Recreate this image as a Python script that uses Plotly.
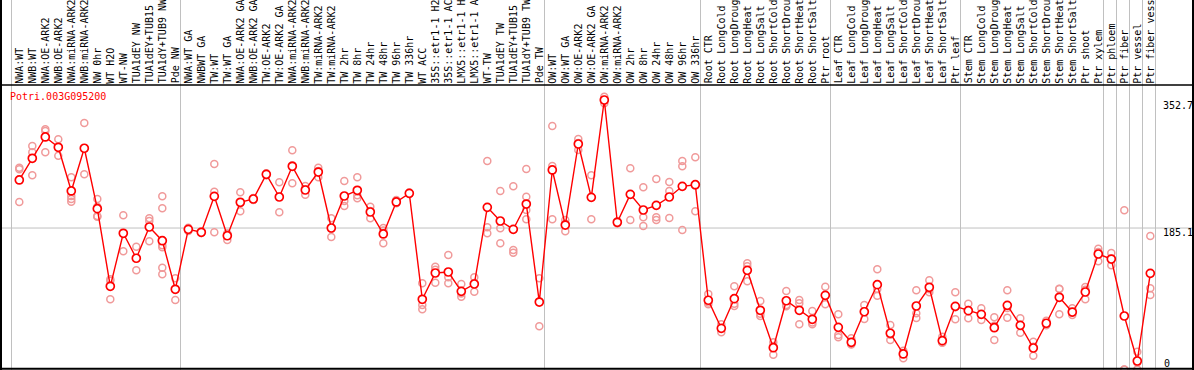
import plotly.graph_objects as go

gene_id = "Potri.003G095200"

categories = [
    "NWA:WT", "NWB:WT", "NWA:OE-ARK2", "NWB:OE-ARK2", "NWA:miRNA-ARK2", "NWB:miRNA-ARK2",
    "NW 0hr", "WT H2O", "WT-NW", "TUA1dEY NW", "TUA1dEY+TUB15 NW", "TUA1dY+TUB9 NW", "Pde NW",
    "NWA:WT GA", "NWBWT GA", "TW:WT", "TW:WT GA", "NWA:OE-ARK2 GA", "NWB:OE-ARK2 GA",
    "TW:OE-ARK2", "TW:OE-ARK2 GA", "NWA:miRNA-ARK2 GA", "NWB:miRNA-ARK2 GA", "TW:miRNA-ARK2",
    "TW:miRNA-ARK2 GA", "TW 2hr", "TW 8hr", "TW 24hr", "TW 48hr", "TW 96hr", "TW 336hr",
    "WT ACC", "35S::etr1-1 H2O", "35S::etr1-1 ACC", "LMX5::etr1-1 H2O", "LMX5::etr1-1 ACC",
    "WT-TW", "TUA1dEY TW", "TUA1dEY+TUB15 TW", "TUA1dY+TUB9 TW", "Pde TW",
    "OW:WT", "OW:WT GA", "OW:OE-ARK2", "OW:OE-ARK2 GA", "OW:miRNA-ARK2", "OW:miRNA-ARK2 GA",
    "OW 2hr", "OW 8hr", "OW 24hr", "OW 48hr", "OW 96hr", "OW 336hr",
    "Root CTR", "Root LongCold", "Root LongDrought", "Root LongHeat", "Root LongSalt",
    "Root ShortCold", "Root ShortDrought", "Root ShortHeat", "Root ShortSalt", "Ptr root",
    "Leaf CTR", "Leaf LongCold", "Leaf LongDrought", "Leaf LongHeat", "Leaf LongSalt",
    "Leaf ShortCold", "Leaf ShortDrought", "Leaf ShortHeat", "Leaf ShortSalt", "Ptr leaf",
    "Stem CTR", "Stem LongCold", "Stem LongDrought", "Stem LongHeat", "Stem LongSalt",
    "Stem ShortCold", "Stem ShortDrought", "Stem ShortHeat", "Stem ShortSalt", "Ptr shoot",
    "Ptr xylem", "Ptr phloem", "Ptr fiber", "Ptr vessel", "Ptr fiber vessel",
]

group_sizes = [13, 28, 12, 10, 10, 11, 1, 1, 1, 1]

mean_values = [
    248.0, 276.4, 304.3, 290.8, 233.6, 289.5, 210.4, 108.8, 178.2, 145.5, 186.4, 168.5, 104.9,
    183.4, 179.5, 226.6, 175.0, 218.8, 223.1, 255.4, 225.7, 265.9, 234.9, 258.4, 185.1, 227.0,
    234.5, 206.1, 177.3, 219.2, 230.5, 91.8, 126.2, 127.5, 102.2, 111.8, 212.2, 194.3, 183.4,
    216.5, 88.2,
    261.1, 189.0, 295.1, 225.3, 352.7, 192.6, 229.2, 208.7, 214.8, 225.7, 239.7, 241.8,
    90.5, 53.8, 92.6, 129.7, 77.4, 28.4, 89.9, 77.4, 65.6, 97.0,
    55.1, 35.5, 75.5, 110.9, 47.3, 20.2, 83.0, 107.5, 37.6, 82.6,
    76.9, 72.1, 54.6, 83.9, 57.7, 28.0, 60.4, 94.4, 75.1, 101.3, 151.1,
    144.5, 69.9, 11.0, 125.8,
]

replicate_values = [
    [264.1, 262.0, 219.2], [292.5, 284.2, 254.1], [314.3, 312.0, 284.2], [301.2, 291.0, 279.8],
    [251.5, 227.0, 223.1, 219.6], [322.6, 289.5, 255.4], [223.1, 213.0, 200.8, 199.9],
    [116.1, 118.0, 91.8], [201.7, 178.0, 154.6], [160.6, 146.0, 129.7], [197.8, 194.3, 167.7],
    [226.6, 210.9, 162.5, 159.9, 133.1, 124.5], [119.3, 104.5, 90.9],
    [185.5, 181.2, 183.5], [179.5, 180.5, 178.5], [268.9, 232.6, 179.5], [169.4, 178.0, 177.6],
    [231.9, 207.0, 217.5], [221.8, 224.4, 223.1], [256.7, 254.1, 255.4], [244.9, 205.7, 226.5],
    [286.8, 243.6, 267.3], [240.1, 228.7, 236.0], [264.1, 251.5, 259.6], [197.8, 173.3, 184.2],
    [246.7, 213.9, 220.4], [251.5, 224.0, 228.0], [213.0, 197.8, 207.5], [185.1, 165.1, 181.7],
    [221.8, 217.5, 218.3], [231.5, 229.5, 230.5], [112.7, 84.3, 78.7], [134.5, 130.5, 113.5],
    [149.8, 120.6, 112.7], [111.8, 99.5, 95.2], [120.6, 101.7, 113.0], [272.8, 186.0, 178.2],
    [233.6, 184.7, 165.1], [239.7, 156.3, 152.8], [262.4, 226.1, 208.7, 196.5],
    [119.3, 56.4, 89.0],
    [318.7, 266.3, 196.5], [195.6, 180.8, 190.6], [301.6, 287.2, 296.5], [254.1, 196.5, 225.3],
    [357.0, 352.7, 348.4], [194.0, 191.0, 192.6], [263.3, 195.6, 228.7], [238.4, 199.1, 187.7],
    [249.3, 199.1, 195.6], [245.3, 233.6, 198.2], [272.8, 265.9, 182.5], [277.7, 207.0, 240.7],
    [98.7, 85.2, 87.6], [59.0, 48.6, 53.8], [108.8, 83.0, 86.0], [138.9, 115.3, 134.9],
    [89.5, 69.9, 72.8], [35.5, 19.2, 30.5], [102.6, 84.3, 82.8], [90.9, 86.5, 59.0],
    [76.5, 59.0, 61.3], [108.3, 85.2, 97.5],
    [72.1, 45.0, 42.0], [40.7, 32.5, 33.3], [84.3, 66.0, 76.2], [131.1, 96.5, 105.1],
    [58.1, 38.5, 45.3], [24.5, 14.5, 21.6], [103.6, 73.4, 67.3], [116.6, 100.9, 105.0],
    [42.8, 35.2, 34.8], [100.9, 65.6, 81.3],
    [86.0, 66.9, 77.8], [80.0, 64.7, 71.6], [68.2, 38.5, 57.1], [103.6, 67.7, 80.4],
    [66.9, 48.0, 58.2], [36.3, 17.9, 29.8], [63.8, 57.7, 59.7], [105.7, 72.1, 105.4],
    [80.0, 71.2, 74.1], [107.9, 91.8, 104.2], [158.0, 141.5, 153.8],
    [152.4, 136.3, 144.8], [208.3, 0.0, 0.0], [23.2, 9.0, 0.0], [174.6, 106.2, 97.4],
]

y_tick_values = [0, 185.1, 352.7]

# ---------------------------------------------------------------------------
W, H = 1194, 370
n = len(categories)
xs = list(range(n))

rep_x, rep_y = [], []
for i, reps in enumerate(replicate_values):
    for v in reps:
        rep_x.append(i)
        rep_y.append(v)

fig = go.Figure()
fig.add_trace(go.Scatter(
    x=rep_x, y=rep_y, mode="markers",
    marker=dict(symbol="circle-open", size=7, color="#f09a9a", line=dict(width=1.5, color="#f09a9a")),
    hoverinfo="skip", showlegend=False,
))
fig.add_trace(go.Scatter(
    x=xs, y=mean_values, mode="lines+markers",
    line=dict(color="#ff0000", width=1.4),
    marker=dict(symbol="circle", size=8, color="white", line=dict(width=1.7, color="#ff0000")),
    showlegend=False,
))

shapes = []
# group boundaries
bounds = [-0.6]
acc = -1
for g in group_sizes:
    acc += g
    bounds.append(acc + 0.4)
for b in bounds:
    shapes.append(dict(type="line", xref="x", yref="paper", x0=b, x1=b, y0=0, y1=1,
                       line=dict(color="#c0c0c0", width=1), layer="below"))
shapes.append(dict(type="line", xref="paper", yref="y", x0=0, x1=1, y0=y_tick_values[1], y1=y_tick_values[1],
                   line=dict(color="#c0c0c0", width=1), layer="below"))
# black frame
top_frac = 1 - 85 / H
shapes += [
    dict(type="line", xref="paper", yref="paper", x0=0, x1=1, y0=top_frac, y1=top_frac,
         line=dict(color="black", width=1.5)),
    dict(type="line", xref="paper", yref="paper", x0=1 / W, x1=1 / W, y0=0, y1=1,
         line=dict(color="black", width=2)),
    dict(type="line", xref="paper", yref="paper", x0=1 - 1 / W, x1=1 - 1 / W, y0=0, y1=1,
         line=dict(color="black", width=2)),
    dict(type="line", xref="paper", yref="paper", x0=0, x1=1, y0=1.3 / H, y1=1.3 / H,
         line=dict(color="black", width=2)),
]

mono = "DejaVu Sans Mono"
annotations = []
label_y = 1 - 83.5 / H
for i, lab in enumerate(categories):
    annotations.append(dict(x=i, y=label_y, xref="x", yref="paper", text=lab, showarrow=False,
                            textangle=-90, xanchor="center", yanchor="bottom",
                            borderpad=0, borderwidth=0,
                            font=dict(family=mono, size=10, color="black")))
annotations.append(dict(x=10 / W, y=1 - 96.7 / H, xref="paper", yref="paper", text=gene_id,
                        showarrow=False, xanchor="left", yanchor="middle", borderpad=0, borderwidth=0,
                        font=dict(family=mono, size=10, color="#ff0000")))
tick_x = 1163 / W
for v in y_tick_values:
    label = "0" if v == 0 else f"{v:.1f}"
    if v == 0:
        annotations.append(dict(x=tick_x, y=v, xref="paper", yref="y", text=label, showarrow=False,
                                xanchor="left", yanchor="bottom", borderpad=0, borderwidth=0,
                                xshift=1, font=dict(family=mono, size=10, color="black")))
    else:
        annotations.append(dict(x=tick_x, y=v, xref="paper", yref="y", text=label, showarrow=False,
                                xanchor="left", yanchor="top", borderpad=0, borderwidth=0,
                                yshift=1 if v < 300 else 0,
                                font=dict(family=mono, size=10, color="black")))

px_per_x = 13.0
x0_px = 19.3
y0_px = 369.4
px_per_y = (369.4 - 100.0) / y_tick_values[2]

fig.update_layout(
    width=W, height=H, autosize=False,
    margin=dict(l=0, r=0, t=0, b=0, pad=0),
    paper_bgcolor="white", plot_bgcolor="white",
    xaxis=dict(visible=False, range=[-x0_px / px_per_x, (W - x0_px) / px_per_x], fixedrange=True),
    yaxis=dict(visible=False, range=[-(H - y0_px) / px_per_y, y0_px / px_per_y], fixedrange=True),
    shapes=shapes, annotations=annotations, showlegend=False,
)

fig.write_html(
    "out.html",
    config={"displayModeBar": False},
    post_script="document.body.style.margin='0px';document.body.style.overflow='hidden';",
)
